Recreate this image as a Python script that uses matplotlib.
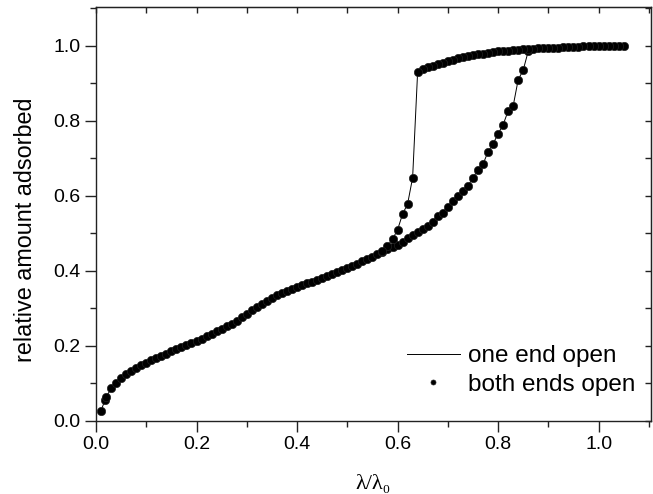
import numpy as np
import matplotlib
matplotlib.use("Agg")
import matplotlib.pyplot as plt
from matplotlib.ticker import MultipleLocator

plt.rcParams['font.family'] = ['Liberation Sans', 'DejaVu Sans']

# adsorption branch (increasing lambda)
ads_x = [0.01, 0.018, 0.02, 0.03, 0.04, 0.05, 0.06, 0.07, 0.08, 0.09,
         0.10, 0.11, 0.12, 0.13, 0.14, 0.15, 0.16, 0.17, 0.18, 0.19,
         0.20, 0.21, 0.22, 0.23, 0.24, 0.25, 0.26, 0.27, 0.28, 0.29,
         0.30, 0.31, 0.32, 0.33, 0.34, 0.35, 0.36, 0.37, 0.38, 0.39,
         0.40, 0.41, 0.42, 0.43, 0.44, 0.45, 0.46, 0.47, 0.48, 0.49,
         0.50, 0.51, 0.52, 0.53, 0.54, 0.55, 0.56, 0.57, 0.58, 0.59,
         0.60, 0.61, 0.62, 0.63, 0.64, 0.65, 0.66, 0.67, 0.68, 0.69,
         0.70, 0.71, 0.72, 0.73, 0.74, 0.75, 0.76, 0.77, 0.78, 0.79,
         0.80, 0.81, 0.82, 0.83, 0.84, 0.85, 0.86]
ads_y = [0.027, 0.055, 0.062, 0.086, 0.101, 0.113, 0.124, 0.133, 0.141, 0.148,
         0.155, 0.161, 0.167, 0.173, 0.179, 0.185, 0.190, 0.196, 0.201, 0.207,
         0.213, 0.219, 0.225, 0.231, 0.238, 0.245, 0.252, 0.259, 0.267, 0.276,
         0.285, 0.294, 0.303, 0.312, 0.320, 0.328, 0.335, 0.341, 0.346, 0.351,
         0.356, 0.361, 0.366, 0.371, 0.376, 0.381, 0.386, 0.391, 0.396, 0.401,
         0.407, 0.413, 0.419, 0.425, 0.431, 0.437, 0.444, 0.451, 0.459, 0.464,
         0.469, 0.477, 0.486, 0.495, 0.503, 0.510, 0.519, 0.531, 0.546, 0.555,
         0.569, 0.587, 0.599, 0.613, 0.626, 0.648, 0.669, 0.684, 0.717, 0.738,
         0.765, 0.789, 0.826, 0.839, 0.909, 0.935, 0.985]

# desorption branch (decreasing lambda)
des_x = [1.05, 1.04, 1.03, 1.02, 1.01, 1.00, 0.99, 0.98, 0.97, 0.96,
         0.95, 0.94, 0.93, 0.92, 0.91, 0.90, 0.89, 0.88, 0.87, 0.86,
         0.85, 0.84, 0.83, 0.82, 0.81, 0.80, 0.79, 0.78, 0.77, 0.76,
         0.75, 0.74, 0.73, 0.72, 0.71, 0.70, 0.69, 0.68, 0.67, 0.66,
         0.65, 0.64, 0.63, 0.62, 0.61, 0.60, 0.59, 0.58, 0.57]
des_y = [1.000, 1.000, 1.000, 0.999, 0.999, 0.999, 0.998, 0.998, 0.998, 0.997,
         0.997, 0.996, 0.996, 0.995, 0.995, 0.994, 0.994, 0.993, 0.992, 0.991,
         0.990, 0.989, 0.988, 0.987, 0.986, 0.985, 0.983, 0.981, 0.979, 0.977,
         0.975, 0.972, 0.969, 0.966, 0.962, 0.958, 0.955, 0.951, 0.947, 0.942,
         0.937, 0.931, 0.648, 0.578, 0.551, 0.509, 0.484, 0.466, 0.453]

fig = plt.figure(figsize=(6.53, 4.94), dpi=100)
ax = fig.add_axes([0.147, 0.1484, 0.8497, 0.838])

# one end open: thin line through both branches
ax.plot(ads_x, ads_y, color='black', lw=0.7, label='one end open', zorder=2)
ax.plot(des_x, des_y, color='black', lw=0.7, zorder=2)
# both ends open: filled dots
ax.plot(ads_x + des_x, ads_y + des_y, ls='none', marker='o', ms=6,
        color='black', mec='#222222', mew=0.5, label='both ends open', zorder=3)

ax.set_xlim(0, 1.104)
ax.set_ylim(0, 1.104)
ax.xaxis.set_major_locator(MultipleLocator(0.2))
ax.xaxis.set_minor_locator(MultipleLocator(0.1))
ax.yaxis.set_major_locator(MultipleLocator(0.2))
ax.yaxis.set_minor_locator(MultipleLocator(0.1))
ax.xaxis.set_major_formatter(lambda v, p: f'{v:.1f}')
ax.yaxis.set_major_formatter(lambda v, p: f'{v:.1f}')
ax.tick_params(which='major', direction='out', length=8, width=1.0,
               labelsize=14, pad=3, color='#222222')
ax.tick_params(which='minor', direction='out', length=4.5, width=1.0,
               color='#222222')
for s in ax.spines.values():
    s.set_linewidth(1.0)
    s.set_color('#222222')

# inward ticks on top and right
top = ax.secondary_xaxis('top')
top.xaxis.set_major_locator(MultipleLocator(0.1))
top.tick_params(direction='in', length=4, width=1.0, labeltop=False, color='#222222')
right = ax.secondary_yaxis('right')
right.yaxis.set_major_locator(MultipleLocator(0.1))
right.tick_params(direction='in', length=4, width=1.0, labelright=False, color='#222222')

ax.set_ylabel('relative amount adsorbed', fontsize=16.8)
ax.yaxis.set_label_coords(-0.106, 0.462)
ax.set_xlabel('λ/λ₀', fontsize=16, family=['Liberation Serif', 'DejaVu Serif'])
ax.xaxis.set_label_coords(0.5, -0.131)

ax.legend(loc='lower right', bbox_to_anchor=(0.973, 0.06), frameon=False,
          fontsize=17.5, handlelength=2.2, handletextpad=0.35, borderpad=0,
          borderaxespad=0, labelspacing=0.28, markerscale=0.6)

fig.savefig('out.png', dpi=100)
